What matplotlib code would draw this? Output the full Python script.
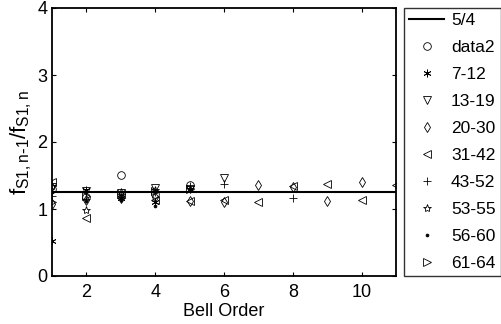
import numpy as np
import matplotlib
matplotlib.use("Agg")
import matplotlib.pyplot as plt

plt.rcParams['font.family'] = ['Liberation Sans', 'DejaVu Sans']
plt.rcParams['mathtext.default'] = 'regular'

# frequency ratio of successive bells, grouped by bell weight range
ratio_line = 1.25
groups = ['data2', '7-12', '13-19', '20-30', '31-42', '43-52', '53-55', '56-60', '61-64']
markers = ['o', (6, 2, 0), 'v', 'd', '<', '+', '*', '.', '>']

data2 = [1.30, 1.18, 1.51, 1.22, 1.36]
g7_12 = [0.52, 1.28, 1.17, 1.10]
g13_19 = [1.33, 1.27, 1.24, 1.31, 1.30, 1.47]
g20_30 = [1.08, 1.13, 1.17, 1.18, 1.12, 1.10, 1.36, 1.33, 1.12, 1.41]
g31_42 = [1.40, 0.87, 1.22, 1.14, 1.12, 1.13, 1.11, 1.35, 1.37, 1.13, 1.36]
g43_52 = [1.20, 1.15, 1.16, 1.25, 1.34, 1.37, np.nan, 1.17]
g53_55 = [1.35, 0.99, 1.25, 1.28, 1.30]
g56_60 = [1.25, 1.12, 1.14, 1.05, 1.30]
g61_64 = [1.10, 1.20, 1.22, 1.27, 1.30]
series = [data2, g7_12, g13_19, g20_30, g31_42, g43_52, g53_55, g56_60, g61_64]

fig = plt.figure(figsize=(5.01, 3.24), dpi=100)
ax = fig.add_axes([52/501, 48/324, 344/501, 268/324])

ax.axhline(ratio_line, color='k', lw=1.5, label='5/4')
for name, m, ys in zip(groups, markers, series):
    xs = np.arange(1, len(ys) + 1)
    ms, fill = 5.5, 'none'
    if m == '.':
        ms, fill = 4, 'k'
    elif m == '*':
        ms = 6
    ax.plot(xs, ys, ls='none', marker=m, ms=ms, mfc=fill, mec='k',
            mew=0.6, color='k', label=name)

ax.set_xlim(1, 11)
ax.set_ylim(0, 4)
ax.set_xticks([2, 4, 6, 8, 10])
ax.set_yticks([0, 1, 2, 3, 4])
ax.tick_params(direction='in', length=3, width=0.8, labelsize=13, top=True, right=True)
ax.tick_params(axis='x', pad=6)
for s in ax.spines.values():
    s.set_linewidth(1.3)
ax.set_xlabel('Bell Order', fontsize=13, labelpad=1)
ax.set_ylabel(r'$f_{S1,n\text{-}1}/f_{S1,n}$', fontsize=16, labelpad=2)

leg = fig.legend(loc='upper left', bbox_to_anchor=(404/501, 1 - 8/324),
                 bbox_transform=fig.transFigure, fontsize=12.5, frameon=True,
                 fancybox=False, edgecolor='k', handlelength=2.0,
                 handletextpad=0.4, labelspacing=0.68, borderpad=0.3,
                 borderaxespad=0)
leg.get_frame().set_linewidth(1.0)

fig.savefig('out.png', dpi=100)
